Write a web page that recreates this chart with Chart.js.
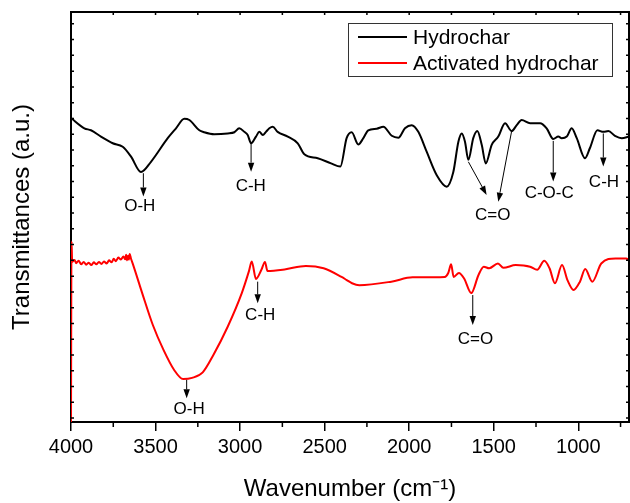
<!DOCTYPE html>
<html>
<head>
<meta charset="utf-8">
<script src="https://cdn.jsdelivr.net/npm/chart.js@4.4.1/dist/chart.umd.min.js"></script>
<style>
  html, body { margin: 0; padding: 0; background: #fff; }
  canvas { display: block; }
</style>
</head>
<body>
<canvas id="ftir-chart" width="630" height="503"></canvas>
<script>
const FONT = '"Liberation Sans", Arial, sans-serif';

// Hydrochar spectrum (wavenumber in cm-1, transmittance in a.u.)
const hydroWn = [4000,3921,3882,3823,3753,3694,3645,3586,3527,3428,3379,3330,3300,3241,3212,3153,3073,3034,3005,2975,
  2955,2935,2906,2886,2866,2847,2827,2807,2778,2718,2659,2620,2541,2462,2407,2370,2340,2301,2271,2242,
  2192,2153,2103,2064,2025,1985,1946,1896,1837,1778,1739,1709,1689,1670,1650,1621,1597,1571,1547,1512,
  1473,1433,1394,1364,1335,1285,1226,1187,1148,1118,1098,1068,1039,1009,960,931,887,852,822,783,743,700];
const hydroT = [76.1,73.5,73.0,71.4,69.7,68.8,66.3,62.4,65.0,71.0,73.5,75.9,75.6,73.0,72.5,72.0,72.2,72.5,73.5,72.6,
  71.8,69.7,71.4,72.6,71.8,72.6,73.5,73.9,72.6,71.4,69.7,66.9,65.9,64.6,63.8,71.0,72.5,69.4,71.0,73.0,
  73.4,73.9,71.6,71.1,73.5,74.3,72.6,67.5,61.6,58.7,62.4,70.1,72.2,70.1,65.5,71.0,72.8,69.3,64.6,69.3,
  71.4,74.8,72.8,74.3,75.6,74.8,74.8,73.5,70.8,71.4,71.0,71.4,73.5,71.0,65.9,68.5,73.0,72.6,72.8,71.6,71.0,71.4];

// Activated hydrochar spectrum
const actWn = [4000,3997,3993,3979,3970,3955,3940,3925,3910,3895,3880,3865,3850,3835,3820,3805,3789,3775,3760,3747,
  3735,3720,3705,3690,3680,3674,3668,3663,3658,3653,3645,3632,3579,3516,3453,3390,3337,3284,3221,3158,
  3074,2990,2948,2931,2906,2874,2853,2838,2737,2611,2506,2400,2369,2338,2295,2106,1980,1790,1769,1752,
  1737,1706,1675,1633,1590,1559,1527,1475,1443,1370,1285,1243,1201,1170,1138,1096,1064,1028,990,959,
  917,864,780,717,700];
const actT = [-1,44.8,39.6,40.1,39.3,39.9,39.0,39.6,38.9,39.4,38.8,39.5,39.0,39.6,39.1,39.7,39.2,40.0,39.5,40.4,
  39.8,40.7,40.2,41.0,40.3,41.4,40.0,41.2,40.2,41.6,40.4,38.8,31.7,23.6,17.3,12.2,9.9,10.2,11.6,16.0,
  23.1,31.7,37.2,39.7,35.3,37.6,39.6,37.3,37.7,38.6,38.0,35.8,35.0,34.2,33.7,34.6,35.7,35.8,36.8,39.0,
  35.8,36.8,35.4,31.7,36.3,38.4,38.0,39.2,38.1,38.8,38.4,37.6,39.9,38.0,34.2,38.8,35.0,32.5,34.6,37.8,
  34.6,39.2,40.5,40.5,40.1];

const seriesNames = ['Hydrochar', 'Activated hydrochar'];
const xTickValues = [4000, 3500, 3000, 2500, 2000, 1500, 1000];
const xMinorValues = [3750, 3250, 2750, 2250, 1750, 1250, 750];

// peak labels: label centre and arrows [x1, y1, x2, y2] in data units (head at x2,y2)
const peakNotes = [
  { text: 'O-H',   x: 3593, y: 53.6, arrows: [[3572, 62.1, 3572, 56.2]] },
  { text: 'C-H',   x: 2937, y: 58.8, arrows: [[2935, 69.7, 2935, 62.5]] },
  { text: 'C=O',   x: 1506, y: 51.4, arrows: [[1650, 65.0, 1542, 56.6], [1394, 72.8, 1473, 54.9]] },
  { text: 'C-O-C', x: 1172, y: 57.1, arrows: [[1148, 70.3, 1148, 60.0]] },
  { text: 'C-H',   x: 848,  y: 59.7, arrows: [[852, 72.2, 852, 63.8]] },
  { text: 'O-H',   x: 3301, y: 2.2,  arrows: [[3316, 9.7, 3316, 5.0]] },
  { text: 'C-H',   x: 2881, y: 26.0, arrows: [[2896, 34.6, 2896, 29.1]] },
  { text: 'C=O',   x: 1608, y: 20.0, arrows: [[1624, 31.2, 1624, 23.6]] }
];

const toPoints = (xs, ys) => xs.map((x, i) => ({ x: x, y: ys[i] }));

// frame on top/right plus the small inner ticks
const framePlugin = {
  id: 'frame',
  afterDatasetsDraw(chart) {
    const { ctx, chartArea: a, scales: { x, y } } = chart;
    ctx.save();
    ctx.strokeStyle = '#000';
    ctx.lineWidth = 2;
    ctx.beginPath();
    ctx.moveTo(a.left - 1, a.top);
    ctx.lineTo(a.right, a.top);
    ctx.lineTo(a.right, a.bottom + 1);
    ctx.stroke();

    ctx.lineWidth = 1.5;
    ctx.beginPath();
    xMinorValues.forEach(v => {
      const px = x.getPixelForValue(v);
      ctx.moveTo(px, a.bottom);
      ctx.lineTo(px, a.bottom + 5);
    });
    xTickValues.concat(xMinorValues).forEach(v => {
      const px = x.getPixelForValue(v);
      ctx.moveTo(px, a.top);
      ctx.lineTo(px, a.top + 3);
    });
    for (let v = 0; v <= 100; v += 4) {
      const py = y.getPixelForValue(v);
      ctx.moveTo(a.left, py);
      ctx.lineTo(a.left + 3, py);
      ctx.moveTo(a.right, py);
      ctx.lineTo(a.right - 3, py);
    }
    ctx.stroke();
    ctx.restore();
  }
};

const peakPlugin = {
  id: 'peaks',
  afterDatasetsDraw(chart) {
    const { ctx, scales: { x, y } } = chart;
    ctx.save();
    ctx.strokeStyle = '#000';
    ctx.fillStyle = '#000';
    ctx.lineWidth = 1;
    peakNotes.forEach(n => {
      n.arrows.forEach(ar => {
        const x1 = x.getPixelForValue(ar[0]), y1 = y.getPixelForValue(ar[1]);
        const x2 = x.getPixelForValue(ar[2]), y2 = y.getPixelForValue(ar[3]);
        const ang = Math.atan2(y2 - y1, x2 - x1);
        const hl = 9, hw = 3.2;
        ctx.beginPath();
        ctx.moveTo(x1, y1);
        ctx.lineTo(x2 - hl * Math.cos(ang), y2 - hl * Math.sin(ang));
        ctx.stroke();
        ctx.beginPath();
        ctx.moveTo(x2, y2);
        ctx.lineTo(x2 - hl * Math.cos(ang) - hw * Math.sin(ang), y2 - hl * Math.sin(ang) + hw * Math.cos(ang));
        ctx.lineTo(x2 - hl * Math.cos(ang) + hw * Math.sin(ang), y2 - hl * Math.sin(ang) - hw * Math.cos(ang));
        ctx.closePath();
        ctx.fill();
      });
      ctx.font = '17px ' + FONT;
      ctx.textAlign = 'center';
      ctx.textBaseline = 'middle';
      ctx.fillText(n.text, x.getPixelForValue(n.x), y.getPixelForValue(n.y));
    });
    ctx.restore();
  }
};

// boxed legend inside the plot, upper right
const boxLegend = {
  id: 'boxLegend',
  afterDraw(chart) {
    const { ctx, chartArea: a } = chart;
    const right = a.right - 17, top = a.top + 11;
    const w = 264, h = 53;
    const left = right - w;
    ctx.save();
    ctx.fillStyle = '#fff';
    ctx.fillRect(left, top, w, h);
    ctx.strokeStyle = '#333';
    ctx.lineWidth = 1;
    ctx.strokeRect(left + 0.5, top + 0.5, w, h);
    ctx.font = '21px ' + FONT;
    ctx.textBaseline = 'middle';
    ctx.textAlign = 'left';
    chart.data.datasets.forEach((ds, i) => {
      const cy = top + 14 + i * 26;
      ctx.strokeStyle = ds.borderColor;
      ctx.lineWidth = 2;
      ctx.beginPath();
      ctx.moveTo(left + 10, cy);
      ctx.lineTo(left + 59, cy);
      ctx.stroke();
      ctx.fillStyle = '#000';
      ctx.fillText(ds.label, left + 65, cy + 1);
    });
    ctx.restore();
  }
};

new Chart(document.getElementById('ftir-chart').getContext('2d'), {
  type: 'line',
  data: {
    datasets: [
      {
        label: seriesNames[0],
        data: toPoints(hydroWn, hydroT),
        borderColor: '#000000',
        borderWidth: 2,
        pointRadius: 0,
        cubicInterpolationMode: 'monotone',
        fill: false
      },
      {
        label: seriesNames[1],
        data: toPoints(actWn, actT),
        borderColor: '#ff0000',
        borderWidth: 2,
        pointRadius: 0,
        cubicInterpolationMode: 'monotone',
        fill: false
      }
    ]
  },
  options: {
    responsive: false,
    animation: false,
    layout: { padding: { left: 0, right: 1, top: 12, bottom: 0 } },
    plugins: {
      legend: { display: false },
      tooltip: { enabled: false }
    },
    scales: {
      x: {
        type: 'linear',
        reverse: true,
        min: 700,
        max: 4000,
        afterBuildTicks: scale => { scale.ticks = xTickValues.map(v => ({ value: v })); },
        ticks: {
          callback: v => String(v),
          color: '#000',
          font: { family: FONT, size: 20 },
          padding: 4,
          maxRotation: 0,
          autoSkip: false
        },
        grid: { drawOnChartArea: false, drawTicks: true, tickLength: 9, color: '#000', lineWidth: 1.5 },
        border: { display: true, color: '#000', width: 2 },
        title: {
          display: true,
          text: 'Wavenumber (cm\u207B\u00B9)',
          color: '#000',
          font: { family: FONT, size: 24, lineHeight: 1 },
          padding: { top: 14, bottom: 2 }
        }
      },
      y: {
        min: -1,
        max: 103,
        ticks: { display: false },
        grid: { display: false, drawTicks: false },
        border: { display: true, color: '#000', width: 2 },
        title: {
          display: true,
          text: 'Transmittances (a.u.)',
          color: '#000',
          font: { family: FONT, size: 24, lineHeight: 1.2 },
          padding: { top: 8, bottom: 34.2 }
        }
      }
    }
  },
  plugins: [framePlugin, peakPlugin, boxLegend]
});
</script>
</body>
</html>
